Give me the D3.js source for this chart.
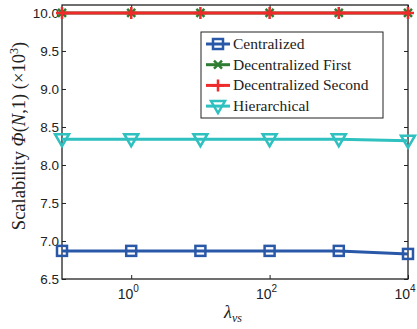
<!DOCTYPE html>
<html>
<head>
<meta charset="utf-8">
<script src="https://cdn.jsdelivr.net/npm/d3@7"></script>
<style>
  body { margin: 0; background: #fff; }
  .tick text { font-family: "Liberation Sans", Arial, sans-serif; font-size: 13.5px; fill: #222; }
</style>
</head>
<body>
<svg width="417" height="329"></svg>
<script>
// data
let lambdas = [0.1, 1, 10, 100, 1000, 10000];
let centralized = [6.87, 6.87, 6.87, 6.87, 6.87, 6.83];
let decFirst = [10.0, 10.0, 10.0, 10.0, 10.0, 10.0];
let decSecond = [10.0, 10.0, 10.0, 10.0, 10.0, 10.0];
let hierarchical = [8.34, 8.34, 8.34, 8.34, 8.34, 8.32];
let yTicks = [6.5, 7.0, 7.5, 8.0, 8.5, 9.0, 9.5, 10.0];
let xTicks = [1, 100, 10000];
let names = ["Centralized", "Decentralized First", "Decentralized Second", "Hierarchical"];

let svg = d3.select("svg");
let mLeft = 62, mRight = 408, mTop = 5, mBottom = 279;

let x = d3.scaleLog().domain([0.1, 10000]).range([mLeft, mRight]);
let y = d3.scaleLinear().domain([6.5, 10.105]).range([mBottom, mTop]);

let axisColor = "#222";

// axes with inward ticks
svg.append("g").attr("transform", "translate(" + mLeft + ",0)")
  .call(d3.axisLeft(y).tickValues(yTicks).tickFormat(d3.format(".1f")).tickSizeInner(-4).tickSizeOuter(0).tickPadding(3));
svg.append("g").attr("transform", "translate(" + mRight + ",0)")
  .call(d3.axisRight(y).tickValues(yTicks).tickFormat("").tickSizeInner(-4).tickSizeOuter(0));
svg.append("g").attr("transform", "translate(0," + mBottom + ")")
  .call(d3.axisBottom(x).tickValues(xTicks).tickFormat("").tickSizeInner(-4).tickSizeOuter(0));
svg.append("g").attr("transform", "translate(0," + mTop + ")")
  .call(d3.axisTop(x).tickValues(xTicks).tickFormat("").tickSizeInner(-4).tickSizeOuter(0));

svg.selectAll(".domain").remove();
svg.selectAll(".tick line").attr("stroke", axisColor).attr("stroke-width", 1);

// box
svg.append("rect")
  .attr("x", mLeft).attr("y", mTop)
  .attr("width", mRight - mLeft).attr("height", mBottom - mTop)
  .attr("fill", "none").attr("stroke", axisColor).attr("stroke-width", 1.3);

// x tick labels with superscripts
xTicks.forEach(t => {
  let txt = svg.append("text")
    .attr("x", x(t) - 3).attr("y", mBottom + 20)
    .attr("text-anchor", "middle")
    .attr("font-family", "Liberation Sans, Arial, sans-serif")
    .attr("font-size", 14).attr("fill", "#222");
  txt.append("tspan").text("10");
  txt.append("tspan").attr("dy", -7).attr("font-size", 10).text(Math.round(Math.log10(t)));
});

// x label
let xl = svg.append("text")
  .attr("x", 233).attr("y", 318)
  .attr("text-anchor", "middle")
  .attr("font-family", "Liberation Serif, Times New Roman, serif")
  .attr("font-style", "italic").attr("font-size", 18).attr("fill", "#222");
xl.append("tspan").text("λ");
xl.append("tspan").attr("dy", 4).attr("font-size", 12).text("vs");

// y label
let yl = svg.append("text")
  .attr("transform", "translate(25,136) rotate(-90)")
  .attr("text-anchor", "middle")
  .attr("font-family", "Liberation Serif, Times New Roman, serif")
  .attr("font-size", 18.5).attr("fill", "#222");
yl.append("tspan").text("Scalability ");
yl.append("tspan").attr("font-style", "italic").text("Φ");
yl.append("tspan").text("(");
yl.append("tspan").attr("font-style", "italic").text("N");
yl.append("tspan").text(",1) (×10");
yl.append("tspan").attr("dy", -7).attr("font-size", 12).text("3");
yl.append("tspan").attr("dy", 7).text(")");

let line = d3.line().x((d, i) => x(lambdas[i])).y(d => y(d));

let series = [
  { name: names[0], values: centralized, color: "#2a58a8", marker: "square" },
  { name: names[1], values: decFirst, color: "#2f7d32", marker: "x" },
  { name: names[2], values: decSecond, color: "#ee2a2a", marker: "plus" },
  { name: names[3], values: hierarchical, color: "#2fc0c0", marker: "tri" }
];

const drawMarker = (g, type, cx, cy, color) => {
  if (type === "square") {
    g.append("rect").attr("x", cx - 5).attr("y", cy - 5).attr("width", 10).attr("height", 10)
      .attr("fill", "none").attr("stroke", color).attr("stroke-width", 2.5);
  } else if (type === "x") {
    g.append("path").attr("d", `M${cx-4},${cy-4}L${cx+4},${cy+4}M${cx-4},${cy+4}L${cx+4},${cy-4}`)
      .attr("stroke", color).attr("stroke-width", 2.5);
  } else if (type === "plus") {
    g.append("path").attr("d", `M${cx-6},${cy}L${cx+6},${cy}M${cx},${cy-6}L${cx},${cy+6}`)
      .attr("stroke", color).attr("stroke-width", 2.5);
  } else {
    g.append("path").attr("d", `M${cx-7},${cy-5}L${cx+7},${cy-5}L${cx},${cy+7}Z`)
      .attr("fill", "none").attr("stroke", color).attr("stroke-width", 2.5);
  }
};

series.forEach(s => {
  let g = svg.append("g");
  g.append("path").datum(s.values)
    .attr("d", line)
    .attr("fill", "none").attr("stroke", s.color).attr("stroke-width", 3);
  s.values.forEach((v, i) => drawMarker(g, s.marker, x(lambdas[i]), y(v), s.color));
});

// legend
let lg = svg.append("g");
lg.append("rect").attr("x", 201).attr("y", 32).attr("width", 182).attr("height", 86)
  .attr("fill", "#fff").attr("stroke", axisColor).attr("stroke-width", 1);
series.forEach((s, i) => {
  let ly = 44 + i * 20.7;
  lg.append("line").attr("x1", 206).attr("x2", 230).attr("y1", ly).attr("y2", ly)
    .attr("stroke", s.color).attr("stroke-width", 3);
  drawMarker(lg, s.marker, 218, ly, s.color);
  lg.append("text").attr("x", 233).attr("y", ly + 5)
    .attr("font-family", "Liberation Serif, Times New Roman, serif")
    .attr("font-size", 15.5).attr("fill", "#222").text(s.name);
});
</script>
</body>
</html>
